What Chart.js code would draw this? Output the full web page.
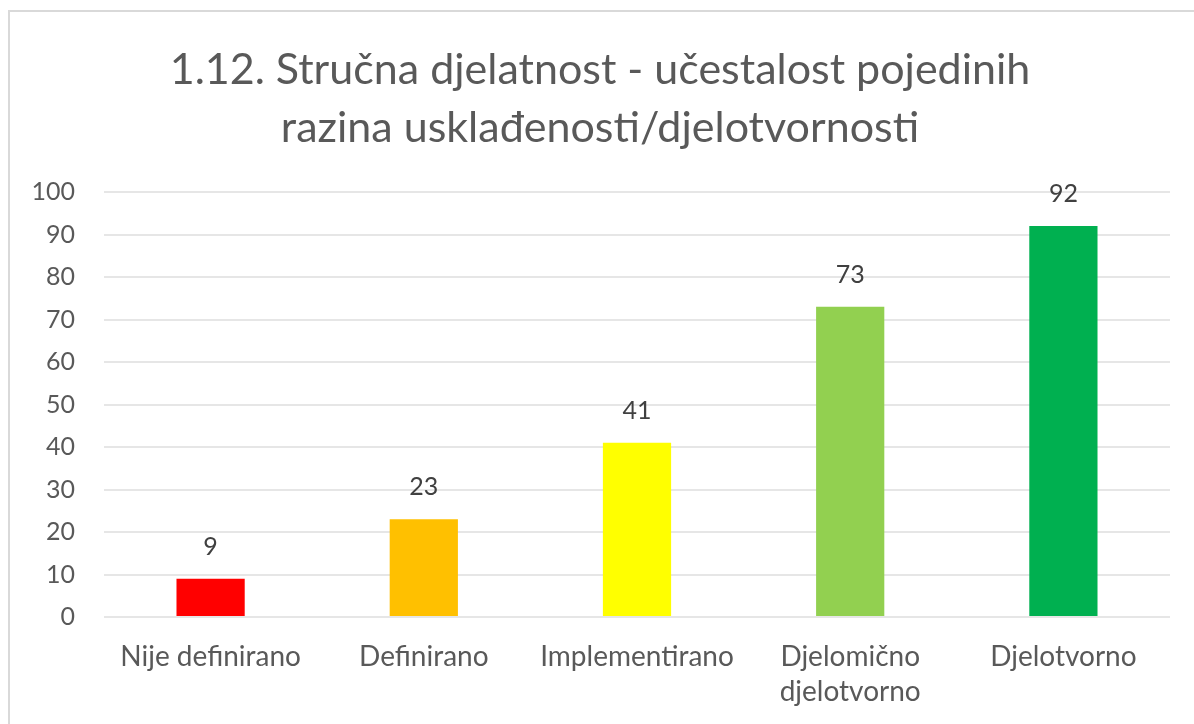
<!DOCTYPE html>
<html>
<head>
<meta charset="utf-8">
<script src="https://cdn.jsdelivr.net/npm/chart.js@4"></script>
<style>
  html, body { margin: 0; padding: 0; background: #fff; }
  #wrap { position: relative; width: 1194px; height: 724px; }
</style>
</head>
<body>
<div id="wrap"><canvas id="c" width="1194" height="724"></canvas></div>
<script>
const titleLines = ['1.12. Stručna djelatnost - učestalost pojedinih', 'razina usklađenosti/djelotvornosti'];
const categories = ['Nije definirano', 'Definirano', 'Implementirano', ['Djelomično', 'djelotvorno'], 'Djelotvorno'];
const values = [9, 23, 41, 73, 92];
const barColors = ['#FF0000', '#FFC000', '#FFFF00', '#92D050', '#00B050'];
const yMin = 0, yMax = 100, yStep = 10;

const FONT = 'Lato, "Open Sans", sans-serif';

const borderPlugin = {
  id: 'frame',
  beforeDraw(chart) {
    const ctx = chart.ctx;
    ctx.save();
    ctx.fillStyle = '#fff';
    ctx.fillRect(0, 0, chart.width, chart.height);
    ctx.strokeStyle = '#d9d9d9';
    ctx.lineWidth = 2;
    ctx.beginPath();
    ctx.moveTo(9, chart.height);
    ctx.lineTo(9, 11);
    ctx.lineTo(chart.width, 11);
    ctx.stroke();
    ctx.restore();
  }
};

const labelPlugin = {
  id: 'valueLabels',
  afterDatasetsDraw(chart) {
    const ctx = chart.ctx;
    const meta = chart.getDatasetMeta(0);
    ctx.save();
    ctx.font = '25px ' + FONT;
    ctx.fillStyle = '#404040';
    ctx.textAlign = 'center';
    ctx.textBaseline = 'middle';
    meta.data.forEach((bar, i) => {
      ctx.fillText(String(chart.data.datasets[0].data[i]), bar.x, bar.y - 32);
    });
    ctx.restore();
  }
};

new Chart(document.getElementById('c'), {
  type: 'bar',
  data: {
    labels: categories,
    datasets: [{
      data: values,
      backgroundColor: barColors,
      borderWidth: 0,
      barPercentage: 0.32,
      categoryPercentage: 1.0
    }]
  },
  options: {
    responsive: false,
    animation: false,
    devicePixelRatio: 1,
    layout: { padding: { left: 30, right: 24, top: 0, bottom: 0 } },
    plugins: {
      legend: { display: false },
      tooltip: { enabled: false },
      title: {
        display: true,
        text: titleLines,
        color: '#595959',
        font: { family: FONT, size: 43, weight: 'normal', lineHeight: 1.35 },
        padding: { top: 41, bottom: 35 }
      }
    },
    scales: {
      x: {
        afterFit(scale) { scale.height = 107; },
        grid: { display: false, drawTicks: false },
        border: { display: false },
        ticks: {
          color: '#595959',
          font: { family: FONT, size: 28, lineHeight: 1.25 },
          padding: 22,
          maxRotation: 0,
          autoSkip: false
        }
      },
      y: {
        min: yMin,
        max: yMax,
        afterFit(scale) { scale.width = 74; },
        grid: { color: '#e6e6e6', lineWidth: 2, drawTicks: false },
        border: { display: false },
        ticks: {
          stepSize: yStep,
          color: '#595959',
          font: { family: FONT, size: 25 },
          padding: 29
        }
      }
    }
  },
  plugins: [borderPlugin, labelPlugin]
});
</script>
</body>
</html>
